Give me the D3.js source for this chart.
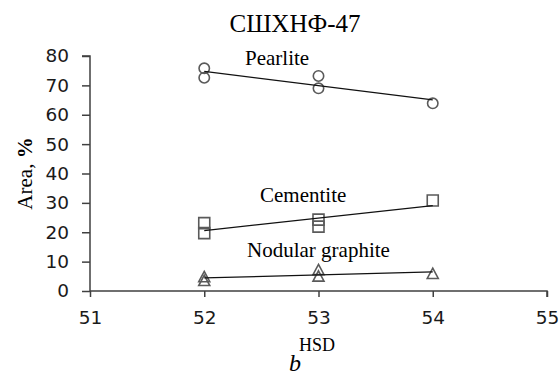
<!DOCTYPE html>
<html>
<head>
<meta charset="utf-8">
<script src="https://cdn.jsdelivr.net/npm/d3@7"></script>
<style>
  html, body { margin: 0; padding: 0; background: #fff; }
  svg { display: block; }
</style>
</head>
<body>
<svg id="chart" width="559" height="381"></svg>
<script>
// Phase area fractions (%) against hardness HSD, two measurements at 52 and 53
const hsd = [52, 52, 53, 53, 54];
const pearlite = [75.8, 72.6, 73.2, 69.0, 63.9];
const cementite = [23.1, 19.7, 24.3, 21.9, 30.8];
const nodular = [4.8, 3.5, 7.2, 5.0, 5.9];
const xTicks = [51, 52, 53, 54, 55];
const yTicks = [0, 10, 20, 30, 40, 50, 60, 70, 80];

const svg = d3.select("#chart");
const plot = { left: 90, right: 547, top: 56, bottom: 291 };

const x = d3.scaleLinear().domain([51, 55]).range([plot.left, plot.right]);
const y = d3.scaleLinear().domain([0, 80]).range([plot.bottom, plot.top]);

const axisColor = "#404040";
const markColor = "#5a5a5a";
const tickFont = "'DejaVu Sans', Verdana, sans-serif";
const serif = "'Liberation Serif', 'Times New Roman', serif";

// Axes
const yAxis = svg.append("g")
  .attr("transform", `translate(${plot.left},0)`)
  .call(d3.axisLeft(y).tickValues(yTicks).tickSize(8).tickPadding(13));
const xAxis = svg.append("g")
  .attr("transform", `translate(0,${plot.bottom})`)
  .call(d3.axisBottom(x).tickValues(xTicks).tickSize(6).tickPadding(14).tickFormat(d3.format("d")));

[yAxis, xAxis].forEach(g => {
  g.select(".domain").attr("stroke", axisColor).attr("stroke-width", 1.5);
  g.selectAll(".tick line").attr("stroke", axisColor).attr("stroke-width", 1.5);
  g.selectAll(".tick text")
    .attr("fill", "#1a1a1a")
    .style("font-family", tickFont)
    .style("font-size", "18.5px");
});
// keep the bottom axis from extending past the y axis on the left
xAxis.select(".domain").attr("d", `M${plot.left},0V0H${plot.right}V6`);
yAxis.select(".domain").attr("d", `M-8,${plot.top}H0V${plot.bottom}`);

// Least-squares trend line through one series
function trend(xs, ys) {
  const mx = d3.mean(xs), my = d3.mean(ys);
  let sxy = 0, sxx = 0;
  xs.forEach((xv, i) => { sxy += (xv - mx) * (ys[i] - my); sxx += (xv - mx) ** 2; });
  const b = sxy / sxx, a = my - b * mx;
  const x0 = d3.min(xs), x1 = d3.max(xs);
  return [[x0, a + b * x0], [x1, a + b * x1]];
}

const line = d3.line().x(d => x(d[0])).y(d => y(d[1]));

const series = [
  { values: pearlite, shape: "circle" },
  { values: cementite, shape: "square" },
  { values: nodular, shape: "triangle" }
];

series.forEach(s => {
  const pts = hsd.map((h, i) => [h, s.values[i]]);
  const g = svg.append("g");
  g.selectAll("path.mark")
    .data(pts)
    .join("path")
    .attr("class", "mark")
    .attr("transform", d => `translate(${x(d[0])},${y(d[1])})`)
    .attr("d", () => {
      if (s.shape === "circle") return d3.symbol(d3.symbolCircle, 85)();
      if (s.shape === "square") return "M-5.5,-5.5H5.5V5.5H-5.5Z";
      return "M0,-5.5L5.5,4.8H-5.5Z";
    })
    .attr("fill", "none")
    .attr("stroke", markColor)
    .attr("stroke-width", 1.6);
  g.append("path")
    .attr("d", line(trend(hsd, s.values)))
    .attr("fill", "none")
    .attr("stroke", "#111")
    .attr("stroke-width", 1.2);
});

// Series labels
const labels = [
  { text: "Pearlite", x: 245, y: 65 },
  { text: "Cementite", x: 260, y: 201.5 },
  { text: "Nodular graphite", x: 247, y: 256.5 }
];
svg.selectAll("text.series")
  .data(labels)
  .join("text")
  .attr("class", "series")
  .attr("x", d => d.x)
  .attr("y", d => d.y)
  .style("font-family", serif)
  .style("font-size", "21px")
  .attr("fill", "#000")
  .text(d => d.text);

// Title
svg.append("text")
  .attr("x", 295).attr("y", 32)
  .attr("text-anchor", "middle")
  .style("font-family", serif)
  .style("font-size", "25px")
  .text("СШХНФ-47");

// Axis titles
const yTitle = svg.append("text")
  .attr("transform", `translate(32,${(plot.top + plot.bottom) / 2}) rotate(-90)`)
  .attr("text-anchor", "middle")
  .style("font-family", serif)
  .style("font-size", "21px");
yTitle.append("tspan").text("Area, ");
yTitle.append("tspan").attr("font-weight", "bold").text("%");

svg.append("text")
  .attr("x", 317).attr("y", 351)
  .attr("text-anchor", "middle")
  .style("font-family", serif)
  .style("font-size", "18px")
  .text("HSD");

svg.append("text")
  .attr("x", 295).attr("y", 371)
  .attr("text-anchor", "middle")
  .style("font-family", serif)
  .style("font-size", "24px")
  .style("font-style", "italic")
  .text("b");
</script>
</body>
</html>
